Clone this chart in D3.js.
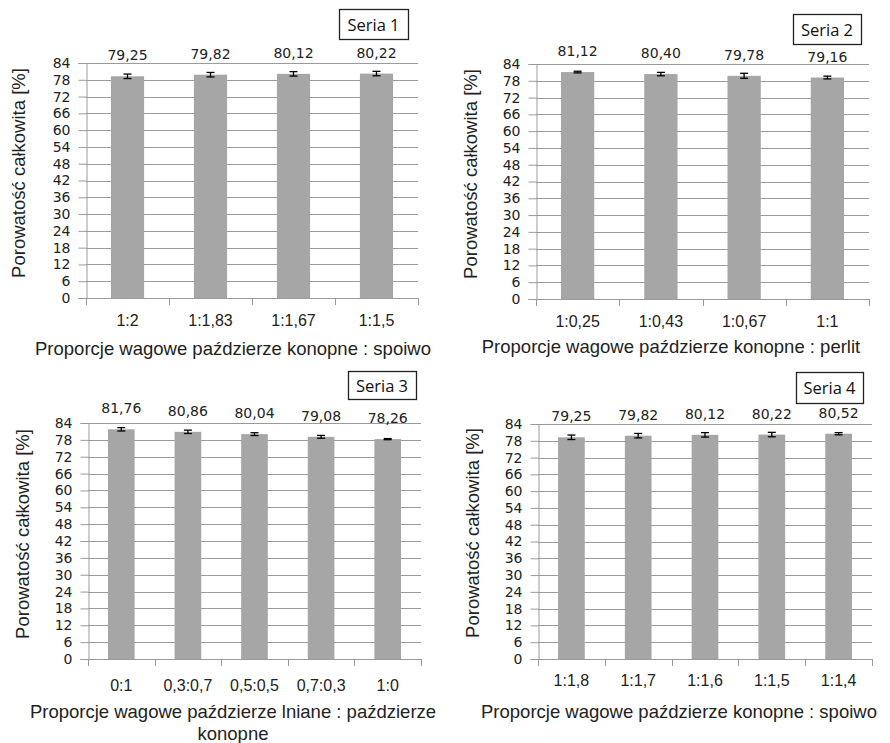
<!DOCTYPE html>
<html>
<head>
<meta charset="utf-8">
<script src="https://cdn.jsdelivr.net/npm/d3@7"></script>
<style>
  body { margin: 0; background: #fff; }
  svg { display: block; }
</style>
</head>
<body>
<svg id="chart" width="890" height="743"></svg>
<script>
// y ticks shared by all four panels
const yTicks = [0, 6, 12, 18, 24, 30, 36, 42, 48, 54, 60, 66, 72, 78, 84]
const yTitle = 'Porowatość całkowita [%]'

// Seria 1
const cats1 = ['1:2', '1:1,83', '1:1,67', '1:1,5']
const vals1 = [79.25, 79.82, 80.12, 80.22]
const errs1 = [0.8, 0.8, 0.8, 0.8]
const xTitle1 = ['Proporcje wagowe paździerze konopne : spoiwo']

// Seria 2
const cats2 = ['1:0,25', '1:0,43', '1:0,67', '1:1']
const vals2 = [81.12, 80.40, 79.78, 79.16]
const errs2 = [0.3, 0.6, 0.9, 0.5]
const xTitle2 = ['Proporcje wagowe paździerze konopne : perlit']

// Seria 3
const cats3 = ['0:1', '0,3:0,7', '0,5:0,5', '0,7:0,3', '1:0']
const vals3 = [81.76, 80.86, 80.04, 79.08, 78.26]
const errs3 = [0.6, 0.6, 0.5, 0.5, 0.2]
const xTitle3 = ['Proporcje wagowe paździerze lniane : paździerze', 'konopne']

// Seria 4
const cats4 = ['1:1,8', '1:1,7', '1:1,6', '1:1,5', '1:1,4']
const vals4 = [79.25, 79.82, 80.12, 80.22, 80.52]
const errs4 = [0.8, 0.8, 0.8, 0.8, 0.4]
const xTitle4 = ['Proporcje wagowe paździerze konopne : spoiwo']

const panels = [
  {name: 'Seria 1', cats: cats1, vals: vals1, errs: errs1, title: xTitle1,
   left: 86, right: 418, top: 63, bottom: 298, legend: [339, 9, 69, 30],
   catY: 326, titleX: 233, titleY: 355, yTitleX: 18, yTitleY: 173},
  {name: 'Seria 2', cats: cats2, vals: vals2, errs: errs2, title: xTitle2,
   left: 536, right: 869, top: 64, bottom: 299, legend: [793, 14, 68, 30],
   catY: 327, titleX: 671, titleY: 353, yTitleX: 470, yTitleY: 174},
  {name: 'Seria 3', cats: cats3, vals: vals3, errs: errs3, title: xTitle3,
   left: 88, right: 421, top: 423, bottom: 659, legend: [348, 371, 68, 28],
   catY: 691, titleX: 233, titleY: 718, yTitleX: 22, yTitleY: 534},
  {name: 'Seria 4', cats: cats4, vals: vals4, errs: errs4, title: xTitle4,
   left: 538, right: 872, top: 424, bottom: 659, legend: [796, 372, 67, 31],
   catY: 686, titleX: 679, titleY: 718, yTitleX: 472, yTitleY: 533}
]

const svg = d3.select('#chart')
const axisFont = "'Liberation Sans', Arial, sans-serif"
const numFont = "'DejaVu Sans', Verdana, sans-serif"
const legendFont = "'Open Sans', sans-serif"
const gridColor = '#9a9a9a'

panels.forEach(p => drawPanel(p))

function drawPanel(p){
  const g = svg.append('g')

  const x = d3.scaleBand().domain(p.cats).range([p.left, p.right]).padding(0)
  const y = d3.scaleLinear().domain([0, 84]).range([p.bottom, p.top])

  // horizontal gridlines
  g.selectAll('.grid').data(yTicks).enter().append('line')
    .attr('x1', p.left).attr('x2', p.right)
    .attr('y1', d => Math.round(y(d)) + 0.5).attr('y2', d => Math.round(y(d)) + 0.5)
    .attr('stroke', gridColor).attr('stroke-width', 1)

  // y axis
  const yAxis = d3.axisLeft(y).tickValues(yTicks).tickSize(8).tickPadding(8)
  const ya = g.append('g').attr('transform', `translate(${Math.round(p.left) + 0.5},0)`).call(yAxis)
  ya.select('.domain').attr('stroke', gridColor)
  ya.selectAll('.tick line').attr('stroke', gridColor)
  ya.selectAll('.tick text').attr('font-family', numFont).attr('font-size', 14).attr('fill', '#222')

  // x axis: ticks at category boundaries
  const bounds = p.cats.map(c => x(c)).concat([p.right])
  g.selectAll('.xt').data(bounds).enter().append('line')
    .attr('x1', d => Math.round(d) + 0.5).attr('x2', d => Math.round(d) + 0.5)
    .attr('y1', Math.round(p.bottom)).attr('y2', Math.round(p.bottom) + 7)
    .attr('stroke', gridColor)

  g.selectAll('.xl').data(p.cats).enter().append('text')
    .attr('x', d => x(d) + x.bandwidth() / 2)
    .attr('y', p.catY)
    .attr('text-anchor', 'middle')
    .attr('font-family', axisFont).attr('font-size', 16).attr('fill', '#222')
    .text(d => d)

  // bars
  const bw = x.bandwidth() * 0.4
  const rows = p.cats.map((c, i) => ({cat: c, v: p.vals[i], e: p.errs[i]}))

  g.selectAll('.bar').data(rows).enter().append('rect')
    .attr('x', d => x(d.cat) + (x.bandwidth() - bw) / 2)
    .attr('width', bw)
    .attr('y', d => y(d.v))
    .attr('height', d => y(0) - y(d.v))
    .attr('fill', '#a6a6a6')

  // error bars
  const eb = g.selectAll('.err').data(rows).enter().append('g')
    .attr('stroke', '#000').attr('stroke-width', 1.3)
  eb.append('line')
    .attr('x1', d => x(d.cat) + x.bandwidth() / 2).attr('x2', d => x(d.cat) + x.bandwidth() / 2)
    .attr('y1', d => y(d.v + d.e)).attr('y2', d => y(d.v - d.e))
  eb.append('line')
    .attr('x1', d => x(d.cat) + x.bandwidth() / 2 - 4).attr('x2', d => x(d.cat) + x.bandwidth() / 2 + 4)
    .attr('y1', d => y(d.v + d.e)).attr('y2', d => y(d.v + d.e))
  eb.append('line')
    .attr('x1', d => x(d.cat) + x.bandwidth() / 2 - 4).attr('x2', d => x(d.cat) + x.bandwidth() / 2 + 4)
    .attr('y1', d => y(d.v - d.e)).attr('y2', d => y(d.v - d.e))

  // value labels
  g.selectAll('.val').data(rows).enter().append('text')
    .attr('x', d => x(d.cat) + x.bandwidth() / 2)
    .attr('y', d => y(d.v) - 16)
    .attr('text-anchor', 'middle')
    .attr('font-family', numFont).attr('font-size', 14).attr('fill', '#222')
    .text(d => d3.format('.2f')(d.v).replace('.', ','))

  // axis titles
  g.append('text')
    .attr('transform', `translate(${p.yTitleX},${p.yTitleY}) rotate(-90)`)
    .attr('text-anchor', 'middle').attr('dominant-baseline', 'central')
    .attr('font-family', axisFont).attr('font-size', 18.5).attr('fill', '#222')
    .text(yTitle)

  g.selectAll('.xtitle').data(p.title).enter().append('text')
    .attr('x', p.titleX)
    .attr('y', (d, i) => p.titleY + i * 22)
    .attr('text-anchor', 'middle')
    .attr('font-family', axisFont).attr('font-size', 18.5).attr('fill', '#222')
    .text(d => d)

  // legend box
  const [lx, ly, lw, lh] = p.legend
  g.append('rect').attr('x', lx + 0.5).attr('y', ly + 0.5).attr('width', lw).attr('height', lh)
    .attr('fill', '#fff').attr('stroke', '#222').attr('stroke-width', 1.3)
  g.append('text')
    .attr('x', lx + lw / 2).attr('y', ly + lh / 2)
    .attr('text-anchor', 'middle').attr('dominant-baseline', 'central')
    .attr('font-family', legendFont).attr('font-size', 16.5).attr('fill', '#111')
    .text(p.name)
}
</script>
</body>
</html>
